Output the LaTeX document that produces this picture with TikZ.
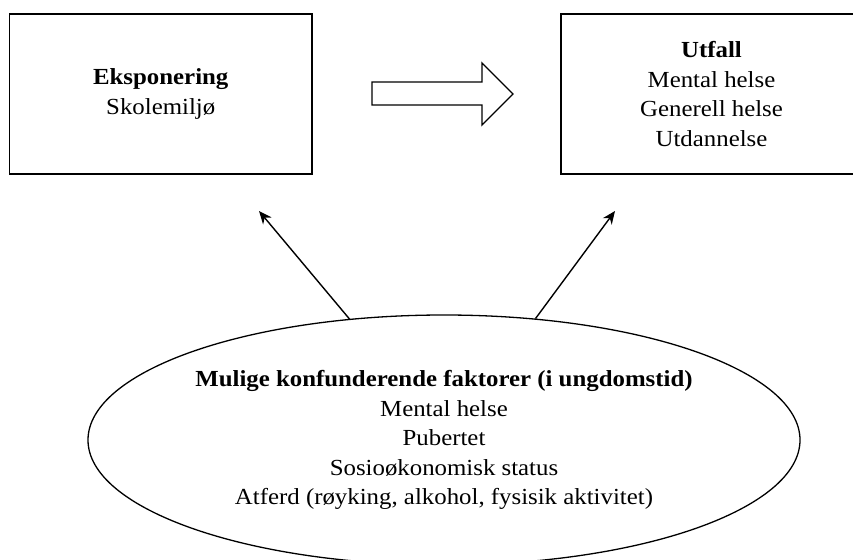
\documentclass[tikz,border=0pt]{standalone}
\usepackage{fontspec}
\setmainfont{Liberation Serif}[FakeStretch=1.08]
\usetikzlibrary{arrows.meta,shapes.geometric}
\begin{document}
\begin{tikzpicture}[x=1pt,y=-1pt,
  txt/.style={font=\fontsize{23}{29.5}\selectfont,align=center,text=black},
  boxnode/.style={draw=black,line width=1.3pt,rectangle,inner sep=0pt,txt},
  ellnode/.style={draw=black,line width=1.3pt,ellipse,inner sep=0pt,txt},
  link/.style={line width=1.4pt,-{Stealth[length=13pt,width=11pt]}},
  blockarrow/.style={draw=black,line width=1.3pt,fill=white,line join=miter}]
\useasboundingbox (0,0) rectangle (853,559);
\fill[white] (0,0) rectangle (853,559);
\node[boxnode,minimum width=302.5pt,minimum height=160pt] (expo) at (160.75,94)
  {\textbf{Eksponering}\\Skolemiljø};
\node[boxnode,minimum width=301pt,minimum height=160pt] (outc) at (711.5,94)
  {\textbf{Utfall}\\Mental helse\\Generell helse\\Utdannelse};
\node[ellnode,minimum width=712pt,minimum height=250pt] (conf) at (444,440)
  {\textbf{Mulige konfunderende faktorer (i ungdomstid)}\\Mental helse\\Pubertet\\Sosioøkonomisk status\\Atferd (røyking, alkohol, fysisik aktivitet)};
\draw[blockarrow] (372,82) -- (482,82) -- (482,63) -- (513,94) -- (482,125) -- (482,105) -- (372,105) -- cycle;
\coordinate (t1) at (259,211);
\coordinate (t2) at (615,211);
\draw[link] (conf.128.95) -- (t1);
\draw[link] (conf.53.4) -- (t2);
\end{tikzpicture}
\end{document}
